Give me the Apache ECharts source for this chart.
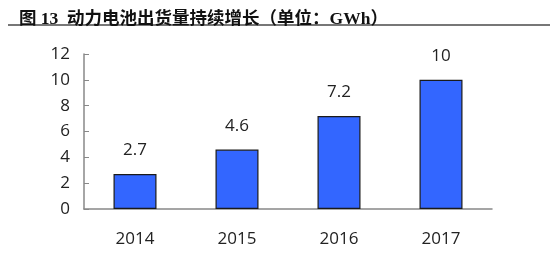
<!DOCTYPE html>
<html><head><meta charset="utf-8">
<script src="https://cdn.jsdelivr.net/npm/echarts@6/dist/echarts.min.js"></script>
<style>html,body{margin:0;padding:0;background:#fff}#c{width:550px;height:269px}</style>
</head><body><div id="c"></div>
<script>
const titleText = '图 13  动力电池出货量持续增长（单位：GWh）';
const categories = ['2014', '2015', '2016', '2017'];
const values = [2.7, 4.6, 7.2, 10];
const yTicks = [0, 2, 4, 6, 8, 10, 12];

const chart = echarts.init(document.getElementById('c'), null, {renderer: 'canvas'});
const font = '"Open Sans", "Noto Sans", sans-serif';
chart.setOption({
  animation: false,
  backgroundColor: '#fff',
  title: {
    text: titleText, left: 14, top: 6,
    textStyle: {fontSize: 17.5, fontWeight: 'bold', color: '#111', fontFamily: '"Liberation Serif", "Noto Sans CJK SC", serif'}
  },
  graphic: [{type: 'line', shape: {x1: 8, y1: 25, x2: 550, y2: 25}, style: {stroke: '#777', lineWidth: 2}}],
  grid: {left: 84, right: 58, top: 54, bottom: 60},
  xAxis: {
    type: 'category', data: categories,
    axisLine: {lineStyle: {color: '#888', width: 1.5}},
    axisTick: {inside: true, length: 5, alignWithLabel: false, lineStyle: {color: '#888'}},
    axisLabel: {fontSize: 17, color: '#222', margin: 22, fontFamily: font}
  },
  yAxis: {
    type: 'value', min: yTicks[0], max: yTicks[yTicks.length - 1], interval: 2,
    splitLine: {show: false},
    axisLine: {show: true, lineStyle: {color: '#888', width: 1.5}},
    axisTick: {show: true, inside: true, length: 5, lineStyle: {color: '#888'}},
    axisLabel: {fontSize: 17, color: '#222', margin: 14, fontFamily: font}
  },
  series: [{
    type: 'bar', data: values, barWidth: 43,
    itemStyle: {color: '#3366FF', borderColor: '#1a1a1a', borderWidth: 1.2},
    label: {show: true, position: 'top', distance: 15, fontSize: 17, color: '#222', fontFamily: font}
  }]
});
</script></body></html>
